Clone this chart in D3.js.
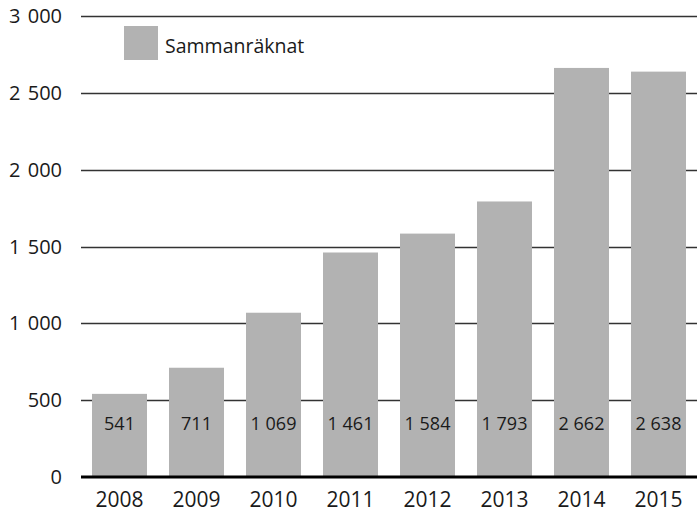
<!DOCTYPE html>
<html>
<head>
<meta charset="utf-8">
<title>Sammanräknat</title>
<style>
  body { margin: 0; background: #fff; }
  text { font-family: "Open Sans", sans-serif; fill: #1a1a1a; }
</style>
</head>
<body>
<div id="chart"></div>
<script src="https://d3js.org/d3.v7.min.js"></script>
<script>
(function(d3) {
  'use strict';

  var years = ['2008', '2009', '2010', '2011', '2012', '2013', '2014', '2015'];
  var values = [541, 711, 1069, 1461, 1584, 1793, 2662, 2638];
  var yTicks = [0, 500, 1000, 1500, 2000, 2500, 3000];
  var seriesName = 'Sammanräknat';

  var width = 697, height = 515;
  var left = 81, right = 697, top = 16, bottom = 477;

  // swedish style thousands separator
  var fmt = function(v) {
    return d3.format(',')(v).replace(/,/g, ' ');
  };

  var svg = d3.select('#chart').append('svg')
    .attr('width', width)
    .attr('height', height);

  var x = d3.scaleBand()
    .domain(years)
    .range([left, right])
    .paddingInner(0.286)
    .paddingOuter(0.143);

  var y = d3.scaleLinear()
    .domain([0, 3000])
    .range([bottom, top]);

  // grid lines
  svg.append('g')
    .selectAll('line')
    .data(yTicks.slice(1))
    .enter().append('line')
    .attr('x1', left)
    .attr('x2', right)
    .attr('y1', function(d) { return Math.round(y(d)) + 0.5; })
    .attr('y2', function(d) { return Math.round(y(d)) + 0.5; })
    .attr('stroke', '#333')
    .attr('stroke-width', 1.3);

  // y tick labels
  svg.append('g')
    .selectAll('text')
    .data(yTicks)
    .enter().append('text')
    .attr('x', 62)
    .attr('y', function(d) { return y(d); })
    .attr('dy', '0.35em')
    .attr('text-anchor', 'end')
    .style('font-size', '20px')
    .style('word-spacing', '2px')
    .text(fmt);

  // bars
  svg.append('g')
    .selectAll('rect')
    .data(values)
    .enter().append('rect')
    .attr('x', function(d, i) { return x(years[i]); })
    .attr('width', x.bandwidth())
    .attr('y', function(d) { return y(d); })
    .attr('height', function(d) { return y(0) - y(d); })
    .attr('fill', '#b2b2b2');

  // value labels inside bars
  svg.append('g')
    .selectAll('text')
    .data(values)
    .enter().append('text')
    .attr('x', function(d, i) { return x(years[i]) + x.bandwidth() / 2; })
    .attr('y', 424)
    .attr('dy', '0.35em')
    .attr('text-anchor', 'middle')
    .style('font-size', '18px')
    .text(fmt);

  // baseline
  svg.append('line')
    .attr('x1', left)
    .attr('x2', right)
    .attr('y1', y(0))
    .attr('y2', y(0))
    .attr('stroke', '#000')
    .attr('stroke-width', 3);

  // x axis labels
  svg.append('g')
    .selectAll('text')
    .data(years)
    .enter().append('text')
    .attr('x', function(d) { return x(d) + x.bandwidth() / 2; })
    .attr('y', 500)
    .attr('dy', '0.35em')
    .attr('text-anchor', 'middle')
    .style('font-size', '21px')
    .text(function(d) { return d; });

  // legend
  svg.append('rect')
    .attr('x', 124)
    .attr('y', 26)
    .attr('width', 34)
    .attr('height', 34)
    .attr('fill', '#b2b2b2');
  svg.append('text')
    .attr('x', 165)
    .attr('y', 46)
    .attr('dy', '0.35em')
    .style('font-size', '19.5px')
    .text(seriesName);

})(window.d3);
</script>
</body>
</html>
